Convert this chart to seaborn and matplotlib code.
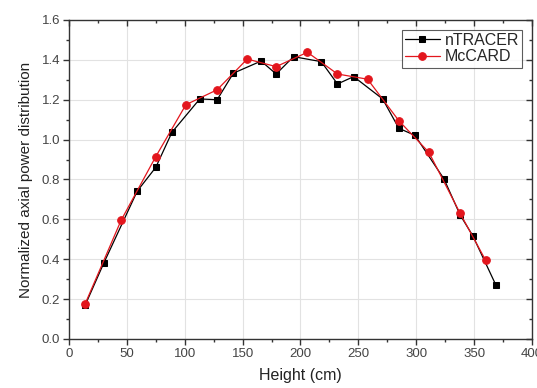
import pandas as pd
import matplotlib
matplotlib.use("Agg")
import matplotlib.pyplot as plt
import seaborn as sns
from matplotlib.ticker import MultipleLocator

# nTRACER axial power
ntracer_height = [14, 30, 59, 75, 89, 113, 128, 142, 166, 179, 194, 218,
                  232, 246, 271, 285, 299, 324, 338, 349, 369]
ntracer_power = [0.17, 0.38, 0.742, 0.861, 1.037, 1.204, 1.200, 1.333, 1.394,
                 1.329, 1.416, 1.391, 1.279, 1.316, 1.204, 1.057, 1.021,
                 0.803, 0.622, 0.517, 0.269]

# McCARD axial power
mccard_height = [14, 45, 75, 101, 128, 154, 179, 206, 232, 258, 285, 311,
                 338, 360]
mccard_power = [0.177, 0.595, 0.915, 1.175, 1.250, 1.404, 1.366, 1.438,
                1.329, 1.303, 1.095, 0.936, 0.630, 0.395]

sns.set_theme(style="white")
plt.rcParams['font.family'] = ['Liberation Sans', 'DejaVu Sans']

df_n = pd.DataFrame({'Height': ntracer_height, 'Power': ntracer_power})
df_m = pd.DataFrame({'Height': mccard_height, 'Power': mccard_power})

fig = plt.figure(figsize=(5.37, 3.88), dpi=100)
ax = fig.add_axes([0.1285, 0.1263, 0.862, 0.8222])

sns.lineplot(data=df_n, x='Height', y='Power', ax=ax, color='black',
             marker='s', markersize=5, markeredgecolor='black', linewidth=0.9,
             label='nTRACER')
sns.lineplot(data=df_m, x='Height', y='Power', ax=ax, color='#e3161d',
             marker='o', markersize=5.5, markeredgecolor='#e3161d',
             linewidth=0.9, label='McCARD')

ax.set_xlim(0, 400)
ax.set_ylim(0, 1.6)
ax.xaxis.set_major_locator(MultipleLocator(50))
ax.xaxis.set_minor_locator(MultipleLocator(25))
ax.yaxis.set_major_locator(MultipleLocator(0.2))
ax.yaxis.set_minor_locator(MultipleLocator(0.1))
ax.yaxis.set_major_formatter(plt.FormatStrFormatter('%.1f'))

ax.grid(True, which='major', color='#e2e2e2', linewidth=0.8)
for s in ax.spines.values():
    s.set_color('#333333')
    s.set_linewidth(1.0)

ax.tick_params(which='both', direction='out', bottom=True, left=True,
               top=True, right=True, colors='#333333', labelsize=9.5,
               labelcolor='#444444', pad=2.5)
ax.tick_params(which='major', length=4, width=1)
ax.tick_params(which='minor', length=2.5, width=1)
# top and right ticks point inward
for t in ax.xaxis.get_ticklines(minor=False)[1::2] + ax.xaxis.get_ticklines(minor=True)[1::2]:
    t.set_marker(3)
for t in ax.yaxis.get_ticklines(minor=False)[1::2] + ax.yaxis.get_ticklines(minor=True)[1::2]:
    t.set_marker(0)

ax.set_xlabel('Height (cm)', fontsize=11.5, color='#222222', labelpad=6)
ax.set_ylabel('Normalized axial power distribution', fontsize=11,
              color='#222222', labelpad=6)

leg = ax.legend(loc='upper right', fontsize=11.5, frameon=True, fancybox=False,
                handlelength=2.2, borderpad=0.2, labelspacing=0.1,
                handletextpad=0.3, borderaxespad=0.6)
leg.get_frame().set_edgecolor('#333333')
leg.get_frame().set_linewidth(0.8)

fig.savefig('out.png', dpi=100)
